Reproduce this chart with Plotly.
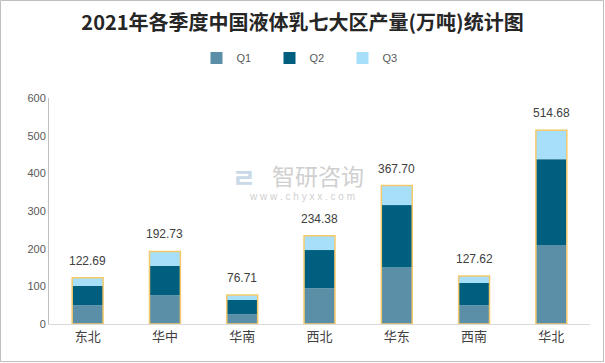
import plotly.graph_objects as go

regions = ["东北", "华中", "华南", "西北", "华东", "西南", "华北"]
q1 = [50.0, 76.0, 25.7, 94.6, 150.3, 49.6, 209.5]
q2 = [51.0, 78.0, 38.0, 101.7, 165.3, 59.2, 228.2]
totals = [122.69, 192.73, 76.71, 234.38, 367.70, 127.62, 514.68]
q3 = [round(t - a - b, 2) for t, a, b in zip(totals, q1, q2)]
series_names = ["Q1", "Q2", "Q3"]
y_ticks = [0, 100, 200, 300, 400, 500, 600]

colors = ["#5B8FA7", "#005F7F", "#A6DFF7"]
W, H = 605, 363
ml, mr, mt, mb = 49, 15, 98, 39

fig = go.Figure()
bases = [[0] * len(regions), q1, [a + b for a, b in zip(q1, q2)]]
for name, vals, base, col in zip(series_names, [q1, q2, q3], bases, colors):
    fig.add_trace(go.Bar(
        x=regions, y=vals, base=base, name=name,
        marker=dict(color=col, line=dict(width=0)),
        width=0.4,
    ))
# total outline
fig.add_trace(go.Bar(
    x=regions, y=totals, base=[0] * len(regions), showlegend=False,
    marker=dict(color="rgba(0,0,0,0)", line=dict(color="#F5C96B", width=1.5)),
    width=0.4, hoverinfo="skip",
))

for r, t in zip(regions, totals):
    fig.add_annotation(x=r, y=t, text=f"{t:.2f}", showarrow=False,
                       yanchor="bottom", yshift=8,
                       font=dict(size=12, color="#404040", family="Liberation Sans, Arial"))

pw = W - ml - mr
ph = H - mt - mb
def px(x):
    return (x - ml) / pw
def py(y):
    return (H - mb - y) / ph

# watermark
fig.add_annotation(xref="paper", yref="paper", x=px(318), y=py(175), text="智研咨询",
                   showarrow=False, font=dict(size=23, color="#D0D0D0", family="Noto Sans CJK SC"))
fig.add_annotation(xref="paper", yref="paper", x=px(302), y=py(196), text="w w w . c h y x x . c o m",
                   showarrow=False, font=dict(size=10, color="#D0D0D0", family="Liberation Sans"))
fig.add_annotation(xref="paper", yref="paper", x=px(244), y=py(176), text="<b>ㄹ</b>",
                   showarrow=False, font=dict(size=26, color="#C9D9E8", family="Noto Sans CJK KR"))

# outer border
fig.add_shape(type="rect", xref="paper", yref="paper",
              x0=px(0.5), x1=px(W - 1.5), y0=py(H - 1.5), y1=py(0.5),
              line=dict(color="#BFBFBF", width=1), fillcolor="rgba(0,0,0,0)", layer="below")

fig.update_layout(
    width=W, height=H,
    margin=dict(l=ml, r=mr, t=mt, b=mb, autoexpand=False),
    barmode="overlay",
    paper_bgcolor="white", plot_bgcolor="white",
    title=dict(text="<b>2021年各季度中国液体乳七大区产量(万吨)统计图</b>",
               x=0.5, xref="container", xanchor="center", y=1 - 23 / H, yanchor="middle",
               font=dict(size=20, color="#262626", family="Noto Sans CJK SC")),
    legend=dict(orientation="h", x=px(306), xanchor="center", xref="paper",
                yref="container", y=1 - 58 / H, yanchor="middle",
                itemwidth=30, entrywidth=28, entrywidthmode="pixels",
                font=dict(size=11, color="#595959", family="Liberation Sans, Arial"),
                traceorder="normal", bgcolor="rgba(0,0,0,0)"),
    showlegend=True,
    font=dict(family="Noto Sans CJK SC"),
)
fig.update_xaxes(showgrid=False, showline=True, linecolor="#D9D9D9", linewidth=1,
                 ticks="", automargin=False,
                 tickfont=dict(size=13, color="#404040", family="Noto Sans CJK SC"),
                 range=[-0.5, 6.5])
fig.update_yaxes(range=[0, 600], tickvals=y_ticks, showgrid=False, showline=True,
                 linecolor="#BFBFBF", linewidth=1, ticks="", zeroline=False, automargin=False,
                 tickfont=dict(size=11, color="#595959", family="Liberation Sans, Arial"))

fig.write_html("out.html", config={"displayModeBar": False},
               post_script="document.body.style.margin='0';document.body.style.overflow='hidden';")
